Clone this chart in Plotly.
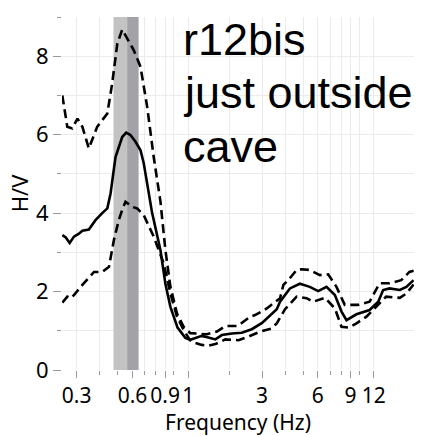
import plotly.graph_objects as go
import math

# ---- data ----
freq_mean = [0.251, 0.262, 0.275, 0.290, 0.307, 0.322, 0.349, 0.365, 0.379, 0.412, 0.439, 0.457,
             0.486, 0.528, 0.555, 0.585, 0.623, 0.663, 0.690, 0.766, 0.849, 0.903, 0.961, 1.05,
             1.157, 1.23, 1.309, 1.42, 1.54, 1.68, 1.82, 2.06, 2.33, 2.64, 3.0, 3.31, 3.6, 3.75,
             4.24, 4.8, 5.43, 6.02, 6.68, 7.41, 8.05, 8.56, 9.69, 11.4, 12.7, 13.5, 14.6, 16.6,
             18.0, 19.7]
hv_mean = [3.44, 3.38, 3.24, 3.40, 3.47, 3.55, 3.58, 3.70, 3.82, 4.00, 4.12, 4.50,
           5.43, 5.94, 6.05, 5.99, 5.82, 5.60, 5.27, 4.00, 3.06, 2.20, 1.61, 1.08,
           0.82, 0.77, 0.81, 0.87, 0.83, 0.78, 0.89, 0.93, 0.95, 1.04, 1.20, 1.38, 1.55, 1.74,
           2.08, 2.20, 2.12, 2.01, 2.12, 1.91, 1.49, 1.27, 1.42, 1.53, 1.74, 2.04, 2.08, 2.04,
           2.12, 2.29]

freq_upper = [0.251, 0.267, 0.284, 0.303, 0.322, 0.349, 0.387, 0.439, 0.466, 0.497, 0.528, 0.562,
              0.610, 0.663, 0.720, 0.781, 0.849, 0.903, 0.961, 1.043, 1.133, 1.231, 1.309, 1.513,
              1.712, 1.90, 2.19, 2.33, 2.59, 2.75, 3.18, 3.75, 3.91, 4.15, 4.61, 4.9, 5.43, 6.15,
              6.82, 7.56, 8.38, 9.89, 11.4, 12.9, 14.6, 16.9, 18.7, 19.7]
hv_upper = [7.00, 6.20, 6.16, 6.41, 6.20, 5.65, 6.20, 6.54, 7.30, 8.32, 8.68, 8.45,
            8.15, 7.73, 6.71, 5.43, 4.30, 3.06, 2.12, 1.44, 1.10, 0.94, 0.93, 0.91,
            0.98, 1.12, 1.12, 1.20, 1.36, 1.40, 1.57, 1.83, 2.17, 2.29, 2.55, 2.57, 2.55, 2.42,
            2.44, 2.12, 1.66, 1.66, 1.74, 2.21, 2.21, 2.29, 2.50, 2.53]

freq_lower = [0.251, 0.267, 0.278, 0.290, 0.322, 0.349, 0.372, 0.412, 0.448, 0.476, 0.506, 0.528,
              0.550, 0.598, 0.636, 0.690, 0.781, 0.884, 0.961, 1.043, 1.133, 1.231, 1.309, 1.42,
              1.54, 1.68, 1.90, 2.24, 2.53, 2.93, 3.38, 3.6, 3.99, 4.61, 5.22, 5.66, 6.55, 7.41,
              8.05, 8.81, 9.69, 10.97, 12.4, 14.0, 16.6, 18.0, 19.7]
hv_lower = [1.72, 1.87, 1.83, 1.91, 2.17, 2.34, 2.50, 2.50, 2.63, 3.31, 3.82, 4.08,
            4.29, 4.16, 4.12, 3.95, 3.40, 2.72, 1.95, 1.36, 1.02, 0.75, 0.69, 0.64,
            0.62, 0.66, 0.78, 0.76, 0.85, 0.98, 1.06, 1.19, 1.55, 1.87, 1.83, 1.74, 1.84, 1.57,
            1.10, 1.08, 1.19, 1.36, 1.61, 1.87, 1.84, 1.95, 2.18]

band_light = [0.474, 0.646]
band_dark = [0.563, 0.646]

x_tickvals = [0.3, 0.6, 0.9, 1.2, 3, 6, 9, 12]
x_ticktext = ["0.3", "0.6", "0.9", "1", "3", "6", "9", "12"]
x_minorvals = [0.4, 0.5, 0.7, 0.8, 1, 2, 4, 5, 7, 8, 10, 20]
y_range = [0, 9]

label_lines = ["r12bis", "just outside", "cave"]

# ---- figure ----
fig = go.Figure()

# shaded frequency bands (as filled traces so they sit above the grid)
for (b0, b1), col in [(band_light, "#c3c3c3"), (band_dark, "#a3a2a8")]:
    fig.add_trace(go.Scatter(x=[b0, b1, b1, b0, b0],
                             y=[y_range[0], y_range[0], y_range[1], y_range[1], y_range[0]],
                             mode="lines", fill="toself", fillcolor=col,
                             line=dict(width=0, color=col), hoverinfo="skip",
                             showlegend=False))

dash_style = "9px,5px"
fig.add_trace(go.Scatter(x=freq_upper, y=hv_upper, mode="lines",
                         line=dict(color="black", width=2.6, dash=dash_style), showlegend=False))
fig.add_trace(go.Scatter(x=freq_lower, y=hv_lower, mode="lines",
                         line=dict(color="black", width=2.6, dash=dash_style), showlegend=False))
fig.add_trace(go.Scatter(x=freq_mean, y=hv_mean, mode="lines",
                         line=dict(color="black", width=2.6), showlegend=False))

# text block, one annotation per line (line centres in paper units)
line_centres = [0.935, 0.785, 0.632]
for txt, yc in zip(label_lines, line_centres):
    fig.add_annotation(text=txt, xref="paper", yref="paper", x=0.338, y=yc,
                       xanchor="left", yanchor="middle", align="left", showarrow=False,
                       font=dict(family="Liberation Sans, Arial", size=45, color="black"))

fig.update_layout(
    width=435, height=436,
    margin=dict(l=62, r=21, t=17, b=66),
    paper_bgcolor="white", plot_bgcolor="white",
    font=dict(family="Noto Sans, Open Sans", size=20, color="black"),
)
fig.update_xaxes(
    type="log", range=[math.log10(0.25), math.log10(19.8)],
    tickmode="array", tickvals=x_tickvals, ticktext=x_ticktext, tickangle=0,
    ticks="outside", ticklen=7, tickcolor="#9a9a9a", tickwidth=1,
    tickfont=dict(size=21),
    showgrid=True, gridcolor="#ebebeb", gridwidth=1,
    minor=dict(tickmode="array", tickvals=x_minorvals, ticks="outside", ticklen=4,
               tickcolor="#9a9a9a", showgrid=True, gridcolor="#ebebeb"),
    title=dict(text="Frequency (Hz)", standoff=4, font=dict(size=21)),
    zeroline=False, showline=False, automargin=False,
)
fig.update_yaxes(
    range=y_range, tick0=0, dtick=2,
    ticks="outside", ticklen=8, tickcolor="#9a9a9a", tickwidth=1,
    tickfont=dict(size=22),
    showgrid=True, gridcolor="#ebebeb", gridwidth=1,
    minor=dict(dtick=1, ticks="outside", ticklen=4, tickcolor="#9a9a9a",
               showgrid=True, gridcolor="#ebebeb"),
    title=dict(text="H/V", standoff=1, font=dict(size=22)),
    zeroline=False, showline=False, automargin=False,
)

fig.write_html("out.html")
